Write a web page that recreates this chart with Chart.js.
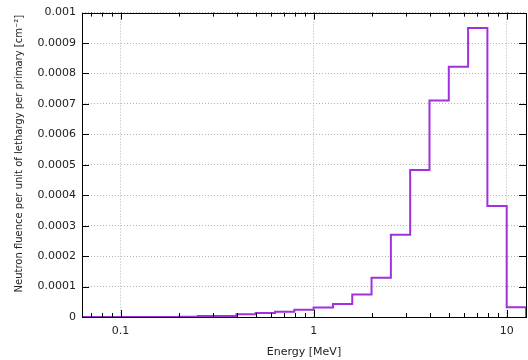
<!DOCTYPE html>
<html>
<head>
<meta charset="utf-8">
<script src="https://cdn.jsdelivr.net/npm/chart.js@4.4.0/dist/chart.umd.min.js"></script>
<style>
    html, body { margin: 0; padding: 0; background: #fff; }
    #chart { display: block; }
</style>
</head>
<body>
<canvas id="chart" width="528" height="360"></canvas>
<script>
// ========== DATA ==========
// bin edges in MeV (10 bins per decade)
const binEdges = [0.0631, 0.0794, 0.1, 0.1259, 0.1585, 0.1995, 0.2512, 0.3162, 0.3981, 0.5012,
    0.631, 0.7943, 1, 1.259, 1.585, 1.995, 2.512, 3.162, 3.981, 5.012, 6.31, 7.943, 10, 12.589];
// fluence per bin (one value per bin)
const fluence = [0, 0, 0, 0, 0, 0.0000005, 0.0000032, 0.0000032, 0.0000088, 0.000013,
    0.000017, 0.000024, 0.0000315, 0.000043, 0.000074, 0.000129, 0.00027, 0.000483,
    0.000711, 0.000822, 0.000949, 0.000365, 0.0000324];
const xMajorTicks = [0.1, 1, 10];
const yTickStep = 0.0001;
const yMax = 0.001;

// ========== STYLE ==========
const colors = {
    line: '#a030e0',
    grid: '#b4b4b4',
    axis: '#000',
    text: '#222'
};
const font = { family: 'DejaVu Sans', size: 11 };

// step points: each bin starts at its left edge, drop to 0 at the last edge
const points = binEdges.map((e, i) => ({ x: e, y: i < fluence.length ? fluence[i] : 0 }));

// frame + inward ticks like gnuplot
const framePlugin = {
    id: 'frame',
    afterDraw(chart) {
        const { ctx, chartArea: a, scales } = chart;
        const xs = scales.x, ys = scales.y;
        ctx.save();
        ctx.strokeStyle = colors.axis;
        ctx.lineWidth = 1;
        ctx.beginPath();
        // y ticks left and right
        for (let v = 0; v <= yMax + 1e-9; v += yTickStep) {
            const py = Math.round(ys.getPixelForValue(v)) + 0.5;
            ctx.moveTo(a.left, py); ctx.lineTo(a.left + 7, py);
            ctx.moveTo(a.right, py); ctx.lineTo(a.right - 7, py);
        }
        // x ticks, major and minor, bottom and top
        [0.01, 0.1, 1, 10].forEach(dec => {
            for (let m = 1; m <= 9; m++) {
                const v = dec * m;
                if (v < xs.min || v > xs.max) continue;
                const px = Math.round(xs.getPixelForValue(v)) + 0.5;
                const len = m === 1 ? 7 : 4;
                ctx.moveTo(px, a.bottom); ctx.lineTo(px, a.bottom - len);
                ctx.moveTo(px, a.top); ctx.lineTo(px, a.top + len);
            }
        });
        ctx.stroke();
        ctx.strokeRect(Math.round(a.left) + 0.5, Math.round(a.top) + 0.5,
            Math.round(a.right - a.left), Math.round(a.bottom - a.top));
        ctx.restore();
    }
};

new Chart(document.getElementById('chart'), {
    type: 'line',
    data: {
        datasets: [{
            data: points,
            stepped: 'before',
            borderColor: colors.line,
            borderWidth: 2,
            pointRadius: 0,
            fill: false,
            clip: 2
        }]
    },
    options: {
        responsive: false,
        animation: false,
        layout: { padding: { top: 8, right: 2, left: 0, bottom: 0 } },
        plugins: {
            legend: { display: false },
            tooltip: { enabled: false }
        },
        scales: {
            x: {
                type: 'logarithmic',
                min: binEdges[0],
                max: binEdges[binEdges.length - 1],
                afterBuildTicks: scale => {
                    scale.ticks = xMajorTicks.map(v => ({ value: v }));
                },
                afterFit: scale => { scale.height = 43; },
                border: { display: false, dash: [1, 2] },
                grid: {
                    color: colors.grid,
                    drawTicks: false
                },
                ticks: {
                    color: colors.text,
                    font: font,
                    padding: 8,
                    maxRotation: 0,
                    callback: v => String(v)
                },
                title: {
                    display: true,
                    text: 'Energy [MeV]',
                    color: colors.text,
                    font: font,
                    padding: { top: 4, bottom: 1 }
                }
            },
            y: {
                min: 0,
                max: yMax,
                afterFit: scale => { scale.width = 82; },
                border: { display: false, dash: [1, 2] },
                grid: {
                    color: colors.grid,
                    drawTicks: false
                },
                ticks: {
                    stepSize: yTickStep,
                    color: colors.text,
                    font: font,
                    padding: 6,
                    callback: v => String(+v.toFixed(4))
                },
                title: {
                    display: true,
                    // leading spaces nudge the rotated title up a bit, as in the original
                    text: '\u00A0'.repeat(7) + 'Neutron fluence per unit of lethargy per primary [cm\u207B\u00B2]',
                    color: colors.text,
                    font: { family: 'DejaVu Sans', size: 10 },
                    padding: { top: 13, bottom: 4 }
                }
            }
        }
    },
    plugins: [framePlugin]
});
</script>
</body>
</html>
